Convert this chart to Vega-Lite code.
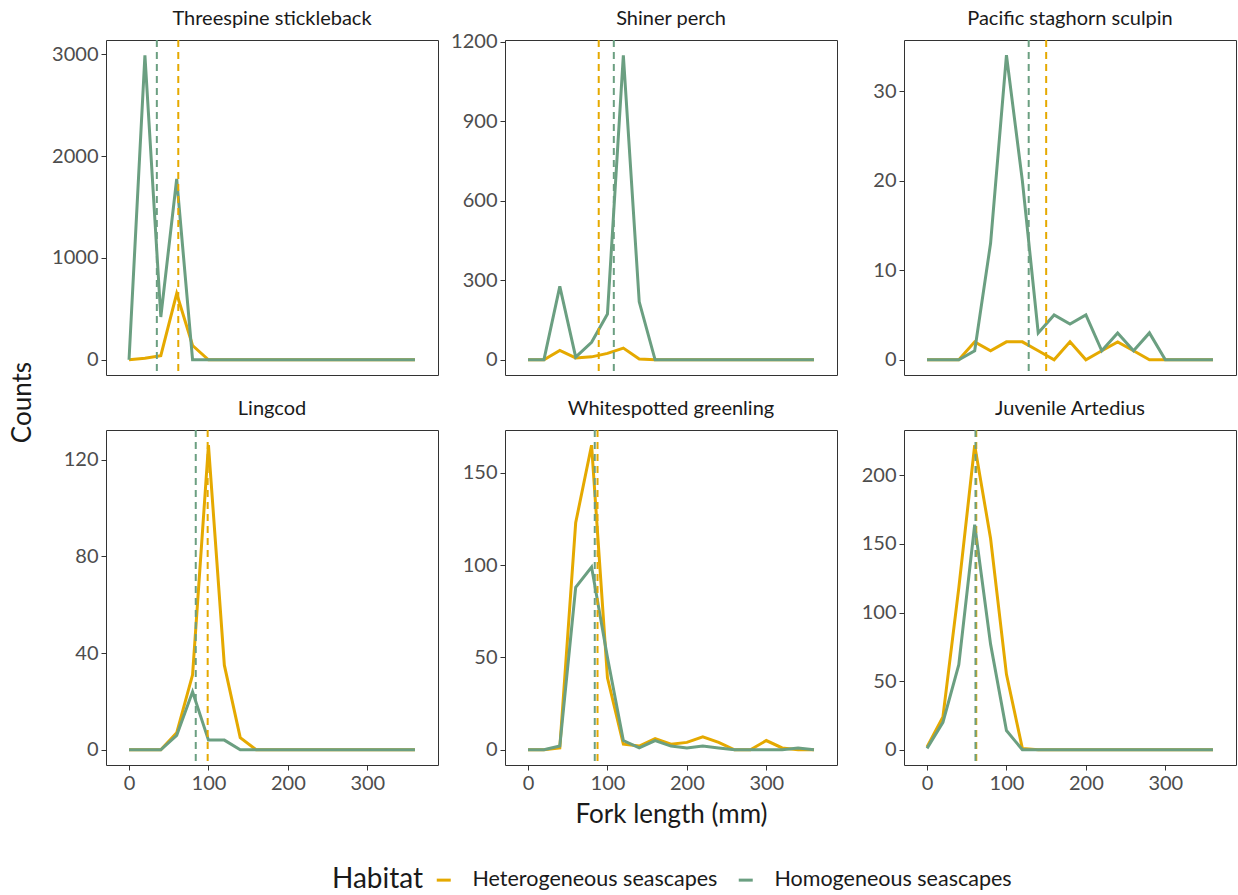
{
  "$schema": "https://vega.github.io/schema/vega-lite/v6.json",
  "background": "white",
  "padding": {"left": 8, "top": 8, "right": 2, "bottom": 2},
  "datasets": {
    "stickleback": [
      {"length": 0, "Heterogeneous seascapes": 0, "Homogeneous seascapes": 0},
      {"length": 20, "Heterogeneous seascapes": 15, "Homogeneous seascapes": 2990},
      {"length": 40, "Heterogeneous seascapes": 40, "Homogeneous seascapes": 420},
      {"length": 60, "Heterogeneous seascapes": 650, "Homogeneous seascapes": 1775},
      {"length": 80, "Heterogeneous seascapes": 140, "Homogeneous seascapes": 0},
      {"length": 100, "Heterogeneous seascapes": 0, "Homogeneous seascapes": 0},
      {"length": 120, "Heterogeneous seascapes": 0, "Homogeneous seascapes": 0},
      {"length": 140, "Heterogeneous seascapes": 0, "Homogeneous seascapes": 0},
      {"length": 160, "Heterogeneous seascapes": 0, "Homogeneous seascapes": 0},
      {"length": 180, "Heterogeneous seascapes": 0, "Homogeneous seascapes": 0},
      {"length": 200, "Heterogeneous seascapes": 0, "Homogeneous seascapes": 0},
      {"length": 220, "Heterogeneous seascapes": 0, "Homogeneous seascapes": 0},
      {"length": 240, "Heterogeneous seascapes": 0, "Homogeneous seascapes": 0},
      {"length": 260, "Heterogeneous seascapes": 0, "Homogeneous seascapes": 0},
      {"length": 280, "Heterogeneous seascapes": 0, "Homogeneous seascapes": 0},
      {"length": 300, "Heterogeneous seascapes": 0, "Homogeneous seascapes": 0},
      {"length": 320, "Heterogeneous seascapes": 0, "Homogeneous seascapes": 0},
      {"length": 340, "Heterogeneous seascapes": 0, "Homogeneous seascapes": 0},
      {"length": 360, "Heterogeneous seascapes": 0, "Homogeneous seascapes": 0}
    ],
    "perch": [
      {"length": 0, "Heterogeneous seascapes": 0, "Homogeneous seascapes": 0},
      {"length": 20, "Heterogeneous seascapes": 0, "Homogeneous seascapes": 0},
      {"length": 40, "Heterogeneous seascapes": 35, "Homogeneous seascapes": 277},
      {"length": 60, "Heterogeneous seascapes": 7, "Homogeneous seascapes": 10},
      {"length": 80, "Heterogeneous seascapes": 11, "Homogeneous seascapes": 66},
      {"length": 100, "Heterogeneous seascapes": 24, "Homogeneous seascapes": 173},
      {"length": 120, "Heterogeneous seascapes": 44, "Homogeneous seascapes": 1150},
      {"length": 140, "Heterogeneous seascapes": 3, "Homogeneous seascapes": 219},
      {"length": 160, "Heterogeneous seascapes": 0, "Homogeneous seascapes": 0},
      {"length": 180, "Heterogeneous seascapes": 0, "Homogeneous seascapes": 0},
      {"length": 200, "Heterogeneous seascapes": 0, "Homogeneous seascapes": 0},
      {"length": 220, "Heterogeneous seascapes": 0, "Homogeneous seascapes": 0},
      {"length": 240, "Heterogeneous seascapes": 0, "Homogeneous seascapes": 0},
      {"length": 260, "Heterogeneous seascapes": 0, "Homogeneous seascapes": 0},
      {"length": 280, "Heterogeneous seascapes": 0, "Homogeneous seascapes": 0},
      {"length": 300, "Heterogeneous seascapes": 0, "Homogeneous seascapes": 0},
      {"length": 320, "Heterogeneous seascapes": 0, "Homogeneous seascapes": 0},
      {"length": 340, "Heterogeneous seascapes": 0, "Homogeneous seascapes": 0},
      {"length": 360, "Heterogeneous seascapes": 0, "Homogeneous seascapes": 0}
    ],
    "sculpin": [
      {"length": 0, "Heterogeneous seascapes": 0, "Homogeneous seascapes": 0},
      {"length": 20, "Heterogeneous seascapes": 0, "Homogeneous seascapes": 0},
      {"length": 40, "Heterogeneous seascapes": 0, "Homogeneous seascapes": 0},
      {"length": 60, "Heterogeneous seascapes": 2, "Homogeneous seascapes": 1},
      {"length": 80, "Heterogeneous seascapes": 1, "Homogeneous seascapes": 13},
      {"length": 100, "Heterogeneous seascapes": 2, "Homogeneous seascapes": 34},
      {"length": 120, "Heterogeneous seascapes": 2, "Homogeneous seascapes": 20},
      {"length": 140, "Heterogeneous seascapes": 1, "Homogeneous seascapes": 3},
      {"length": 160, "Heterogeneous seascapes": 0, "Homogeneous seascapes": 5},
      {"length": 180, "Heterogeneous seascapes": 2, "Homogeneous seascapes": 4},
      {"length": 200, "Heterogeneous seascapes": 0, "Homogeneous seascapes": 5},
      {"length": 220, "Heterogeneous seascapes": 1, "Homogeneous seascapes": 1},
      {"length": 240, "Heterogeneous seascapes": 2, "Homogeneous seascapes": 3},
      {"length": 260, "Heterogeneous seascapes": 1, "Homogeneous seascapes": 1},
      {"length": 280, "Heterogeneous seascapes": 0, "Homogeneous seascapes": 3},
      {"length": 300, "Heterogeneous seascapes": 0, "Homogeneous seascapes": 0},
      {"length": 320, "Heterogeneous seascapes": 0, "Homogeneous seascapes": 0},
      {"length": 340, "Heterogeneous seascapes": 0, "Homogeneous seascapes": 0},
      {"length": 360, "Heterogeneous seascapes": 0, "Homogeneous seascapes": 0}
    ],
    "lingcod": [
      {"length": 0, "Heterogeneous seascapes": 0, "Homogeneous seascapes": 0},
      {"length": 20, "Heterogeneous seascapes": 0, "Homogeneous seascapes": 0},
      {"length": 40, "Heterogeneous seascapes": 0, "Homogeneous seascapes": 0},
      {"length": 60, "Heterogeneous seascapes": 7, "Homogeneous seascapes": 6},
      {"length": 80, "Heterogeneous seascapes": 31, "Homogeneous seascapes": 24},
      {"length": 100, "Heterogeneous seascapes": 126, "Homogeneous seascapes": 4},
      {"length": 120, "Heterogeneous seascapes": 35, "Homogeneous seascapes": 4},
      {"length": 140, "Heterogeneous seascapes": 5, "Homogeneous seascapes": 0},
      {"length": 160, "Heterogeneous seascapes": 0, "Homogeneous seascapes": 0},
      {"length": 180, "Heterogeneous seascapes": 0, "Homogeneous seascapes": 0},
      {"length": 200, "Heterogeneous seascapes": 0, "Homogeneous seascapes": 0},
      {"length": 220, "Heterogeneous seascapes": 0, "Homogeneous seascapes": 0},
      {"length": 240, "Heterogeneous seascapes": 0, "Homogeneous seascapes": 0},
      {"length": 260, "Heterogeneous seascapes": 0, "Homogeneous seascapes": 0},
      {"length": 280, "Heterogeneous seascapes": 0, "Homogeneous seascapes": 0},
      {"length": 300, "Heterogeneous seascapes": 0, "Homogeneous seascapes": 0},
      {"length": 320, "Heterogeneous seascapes": 0, "Homogeneous seascapes": 0},
      {"length": 340, "Heterogeneous seascapes": 0, "Homogeneous seascapes": 0},
      {"length": 360, "Heterogeneous seascapes": 0, "Homogeneous seascapes": 0}
    ],
    "greenling": [
      {"length": 0, "Heterogeneous seascapes": 0, "Homogeneous seascapes": 0},
      {"length": 20, "Heterogeneous seascapes": 0, "Homogeneous seascapes": 0},
      {"length": 40, "Heterogeneous seascapes": 1, "Homogeneous seascapes": 2},
      {"length": 60, "Heterogeneous seascapes": 123, "Homogeneous seascapes": 88},
      {"length": 80, "Heterogeneous seascapes": 165, "Homogeneous seascapes": 99},
      {"length": 100, "Heterogeneous seascapes": 39, "Homogeneous seascapes": 50},
      {"length": 120, "Heterogeneous seascapes": 3, "Homogeneous seascapes": 5},
      {"length": 140, "Heterogeneous seascapes": 2, "Homogeneous seascapes": 1},
      {"length": 160, "Heterogeneous seascapes": 6, "Homogeneous seascapes": 5},
      {"length": 180, "Heterogeneous seascapes": 3, "Homogeneous seascapes": 2},
      {"length": 200, "Heterogeneous seascapes": 4, "Homogeneous seascapes": 1},
      {"length": 220, "Heterogeneous seascapes": 7, "Homogeneous seascapes": 2},
      {"length": 240, "Heterogeneous seascapes": 4, "Homogeneous seascapes": 1},
      {"length": 260, "Heterogeneous seascapes": 0, "Homogeneous seascapes": 0},
      {"length": 280, "Heterogeneous seascapes": 0, "Homogeneous seascapes": 0},
      {"length": 300, "Heterogeneous seascapes": 5, "Homogeneous seascapes": 0},
      {"length": 320, "Heterogeneous seascapes": 1, "Homogeneous seascapes": 0},
      {"length": 340, "Heterogeneous seascapes": 0, "Homogeneous seascapes": 1},
      {"length": 360, "Heterogeneous seascapes": 0, "Homogeneous seascapes": 0}
    ],
    "artedius": [
      {"length": 0, "Heterogeneous seascapes": 2, "Homogeneous seascapes": 1},
      {"length": 20, "Heterogeneous seascapes": 24, "Homogeneous seascapes": 20},
      {"length": 40, "Heterogeneous seascapes": 118, "Homogeneous seascapes": 62},
      {"length": 60, "Heterogeneous seascapes": 222, "Homogeneous seascapes": 164},
      {"length": 80, "Heterogeneous seascapes": 154, "Homogeneous seascapes": 77},
      {"length": 100, "Heterogeneous seascapes": 55, "Homogeneous seascapes": 14},
      {"length": 120, "Heterogeneous seascapes": 1, "Homogeneous seascapes": 0},
      {"length": 140, "Heterogeneous seascapes": 0, "Homogeneous seascapes": 0},
      {"length": 160, "Heterogeneous seascapes": 0, "Homogeneous seascapes": 0},
      {"length": 180, "Heterogeneous seascapes": 0, "Homogeneous seascapes": 0},
      {"length": 200, "Heterogeneous seascapes": 0, "Homogeneous seascapes": 0},
      {"length": 220, "Heterogeneous seascapes": 0, "Homogeneous seascapes": 0},
      {"length": 240, "Heterogeneous seascapes": 0, "Homogeneous seascapes": 0},
      {"length": 260, "Heterogeneous seascapes": 0, "Homogeneous seascapes": 0},
      {"length": 280, "Heterogeneous seascapes": 0, "Homogeneous seascapes": 0},
      {"length": 300, "Heterogeneous seascapes": 0, "Homogeneous seascapes": 0},
      {"length": 320, "Heterogeneous seascapes": 0, "Homogeneous seascapes": 0},
      {"length": 340, "Heterogeneous seascapes": 0, "Homogeneous seascapes": 0},
      {"length": 360, "Heterogeneous seascapes": 0, "Homogeneous seascapes": 0}
    ],
    "means": [
      {"species": "Threespine stickleback", "habitat": "Heterogeneous seascapes", "mean": 62},
      {"species": "Threespine stickleback", "habitat": "Homogeneous seascapes", "mean": 35},
      {"species": "Shiner perch", "habitat": "Heterogeneous seascapes", "mean": 89},
      {"species": "Shiner perch", "habitat": "Homogeneous seascapes", "mean": 108},
      {"species": "Pacific staghorn sculpin", "habitat": "Heterogeneous seascapes", "mean": 150},
      {"species": "Pacific staghorn sculpin", "habitat": "Homogeneous seascapes", "mean": 128},
      {"species": "Lingcod", "habitat": "Heterogeneous seascapes", "mean": 99},
      {"species": "Lingcod", "habitat": "Homogeneous seascapes", "mean": 84},
      {"species": "Whitespotted greenling", "habitat": "Heterogeneous seascapes", "mean": 87.5},
      {"species": "Whitespotted greenling", "habitat": "Homogeneous seascapes", "mean": 84},
      {"species": "Juvenile Artedius", "habitat": "Heterogeneous seascapes", "mean": 62},
      {"species": "Juvenile Artedius", "habitat": "Homogeneous seascapes", "mean": 61}
    ]
  },
  "config": {
    "font": "Lato",
    "view": {"stroke": "#333333", "strokeWidth": 1},
    "axis": {"grid": false, "domain": false, "tickColor": "#333333", "tickSize": 5, "labelColor": "#4d4d4d", "labelFontSize": 20, "labelPadding": 3, "titleFontWeight": "normal", "titleFontSize": 26, "titleColor": "#1a1a1a", "format": "d"},
    "title": {"fontSize": 20, "fontWeight": "normal", "color": "#1a1a1a", "offset": 10},
    "legend": {"orient": "none", "legendX": 226, "legendY": 829, "direction": "horizontal", "titleOrient": "left", "titleFontSize": 28, "titleFontWeight": "normal", "titleColor": "#1a1a1a", "labelFontSize": 21.5, "labelColor": "#1a1a1a", "labelLimit": 400, "symbolType": "stroke", "symbolStrokeWidth": 3, "symbolSize": 196, "columnPadding": 14, "labelOffset": 18, "titlePadding": 9}
  },
  "columns": 3,
  "align": "each",
  "bounds": "flush",
  "spacing": {"row": 55, "column": 67},
  "resolve": {"scale": {"color": "shared"}, "legend": {"color": "shared"}},
  "concat": [
    {
      "width": 332, "height": 335, "title": "Threespine stickleback",
      "layer": [
        {"data": {"name": "stickleback"}, "transform": [{"fold": ["Heterogeneous seascapes", "Homogeneous seascapes"], "as": ["habitat", "count"]}],
         "mark": {"type": "line", "strokeWidth": 3},
         "encoding": {
           "x": {"field": "length", "type": "quantitative", "scale": {"domain": [-29, 389], "nice": false}, "axis": null},
           "y": {"field": "count", "type": "quantitative", "scale": {"domain": [-149.5, 3139.5], "nice": false, "zero": false}, "axis": {"values": [0, 1000, 2000, 3000], "title": "Counts", "titleY": 362, "titlePadding": 14, "minExtent": 57}},
           "color": {"field": "habitat", "type": "nominal", "scale": {"domain": ["Heterogeneous seascapes", "Homogeneous seascapes"], "range": ["#E5A900", "#6B9F81"]}, "legend": {"title": "Habitat"}}
         }},
        {"data": {"name": "means"}, "transform": [{"filter": "datum.species === 'Threespine stickleback'"}],
         "mark": {"type": "rule", "strokeDash": [7, 5], "strokeWidth": 2},
         "encoding": {"x": {"field": "mean", "type": "quantitative"}, "color": {"field": "habitat", "type": "nominal"}}}
      ]
    },
    {
      "width": 332, "height": 335, "title": {"text": "Shiner perch", "offset": 3},
      "layer": [
        {"data": {"name": "perch"}, "transform": [{"fold": ["Heterogeneous seascapes", "Homogeneous seascapes"], "as": ["habitat", "count"]}],
         "mark": {"type": "line", "strokeWidth": 3},
         "encoding": {
           "x": {"field": "length", "type": "quantitative", "scale": {"domain": [-29, 389], "nice": false}, "axis": null},
           "y": {"field": "count", "type": "quantitative", "scale": {"domain": [-57.5, 1207.5], "nice": false, "zero": false}, "axis": {"values": [0, 300, 600, 900, 1200], "title": null}},
           "color": {"field": "habitat", "type": "nominal"}
         }},
        {"data": {"name": "means"}, "transform": [{"filter": "datum.species === 'Shiner perch'"}],
         "mark": {"type": "rule", "strokeDash": [7, 5], "strokeWidth": 2},
         "encoding": {"x": {"field": "mean", "type": "quantitative"}, "color": {"field": "habitat", "type": "nominal"}}}
      ]
    },
    {
      "width": 332, "height": 335, "title": "Pacific staghorn sculpin",
      "layer": [
        {"data": {"name": "sculpin"}, "transform": [{"fold": ["Heterogeneous seascapes", "Homogeneous seascapes"], "as": ["habitat", "count"]}],
         "mark": {"type": "line", "strokeWidth": 3},
         "encoding": {
           "x": {"field": "length", "type": "quantitative", "scale": {"domain": [-29, 389], "nice": false}, "axis": null},
           "y": {"field": "count", "type": "quantitative", "scale": {"domain": [-1.7, 35.7], "nice": false, "zero": false}, "axis": {"values": [0, 10, 20, 30], "title": null}},
           "color": {"field": "habitat", "type": "nominal"}
         }},
        {"data": {"name": "means"}, "transform": [{"filter": "datum.species === 'Pacific staghorn sculpin'"}],
         "mark": {"type": "rule", "strokeDash": [7, 5], "strokeWidth": 2},
         "encoding": {"x": {"field": "mean", "type": "quantitative"}, "color": {"field": "habitat", "type": "nominal"}}}
      ]
    },
    {
      "width": 332, "height": 335, "title": "Lingcod",
      "layer": [
        {"data": {"name": "lingcod"}, "transform": [{"fold": ["Heterogeneous seascapes", "Homogeneous seascapes"], "as": ["habitat", "count"]}],
         "mark": {"type": "line", "strokeWidth": 3},
         "encoding": {
           "x": {"field": "length", "type": "quantitative", "scale": {"domain": [-29, 389], "nice": false}, "axis": {"values": [0, 100, 200, 300], "title": null}},
           "y": {"field": "count", "type": "quantitative", "scale": {"domain": [-6.3, 132.3], "nice": false, "zero": false}, "axis": {"values": [0, 40, 80, 120], "title": null}},
           "color": {"field": "habitat", "type": "nominal"}
         }},
        {"data": {"name": "means"}, "transform": [{"filter": "datum.species === 'Lingcod'"}],
         "mark": {"type": "rule", "strokeDash": [7, 5], "strokeWidth": 2},
         "encoding": {"x": {"field": "mean", "type": "quantitative"}, "color": {"field": "habitat", "type": "nominal"}}}
      ]
    },
    {
      "width": 332, "height": 335, "title": "Whitespotted greenling",
      "layer": [
        {"data": {"name": "greenling"}, "transform": [{"fold": ["Heterogeneous seascapes", "Homogeneous seascapes"], "as": ["habitat", "count"]}],
         "mark": {"type": "line", "strokeWidth": 3},
         "encoding": {
           "x": {"field": "length", "type": "quantitative", "scale": {"domain": [-29, 389], "nice": false}, "axis": {"values": [0, 100, 200, 300], "title": "Fork length (mm)", "titlePadding": 8}},
           "y": {"field": "count", "type": "quantitative", "scale": {"domain": [-8.25, 173.25], "nice": false, "zero": false}, "axis": {"values": [0, 50, 100, 150], "title": null}},
           "color": {"field": "habitat", "type": "nominal"}
         }},
        {"data": {"name": "means"}, "transform": [{"filter": "datum.species === 'Whitespotted greenling'"}],
         "mark": {"type": "rule", "strokeDash": [7, 5], "strokeWidth": 2},
         "encoding": {"x": {"field": "mean", "type": "quantitative"}, "color": {"field": "habitat", "type": "nominal"}}}
      ]
    },
    {
      "width": 332, "height": 335, "title": "Juvenile Artedius",
      "layer": [
        {"data": {"name": "artedius"}, "transform": [{"fold": ["Heterogeneous seascapes", "Homogeneous seascapes"], "as": ["habitat", "count"]}],
         "mark": {"type": "line", "strokeWidth": 3},
         "encoding": {
           "x": {"field": "length", "type": "quantitative", "scale": {"domain": [-29, 389], "nice": false}, "axis": {"values": [0, 100, 200, 300], "title": null}},
           "y": {"field": "count", "type": "quantitative", "scale": {"domain": [-11.1, 233.1], "nice": false, "zero": false}, "axis": {"values": [0, 50, 100, 150, 200], "title": null}},
           "color": {"field": "habitat", "type": "nominal"}
         }},
        {"data": {"name": "means"}, "transform": [{"filter": "datum.species === 'Juvenile Artedius'"}],
         "mark": {"type": "rule", "strokeDash": [7, 5], "strokeWidth": 2},
         "encoding": {"x": {"field": "mean", "type": "quantitative"}, "color": {"field": "habitat", "type": "nominal"}}}
      ]
    }
  ]
}
